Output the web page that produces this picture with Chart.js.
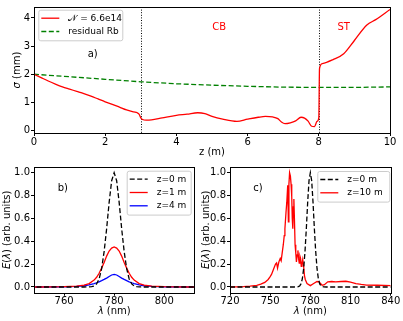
<!DOCTYPE html>
<html>
<head>
<meta charset="utf-8">
<script src="https://cdn.jsdelivr.net/npm/chart.js@4.4.1/dist/chart.umd.min.js"></script>
<style>
html, body { margin: 0; padding: 0; background: #fff; }
#wrap { position: relative; width: 403px; height: 321px; overflow: hidden; }
canvas { position: absolute; }
</style>
</head>
<body>
<div id="wrap">
  <canvas id="chartA" width="403" height="160" style="left:0;top:0"></canvas>
  <canvas id="chartB" width="200" height="161" style="left:0;top:160px"></canvas>
  <canvas id="chartC" width="203" height="161" style="left:200px;top:160px"></canvas>
</div>
<script>
// a) 빔 반경 sigma(z)
const zRed = [0, 0.2, 0.4, 0.6, 0.8, 1.0, 1.2, 1.4, 1.6, 1.8, 2.0, 2.2, 2.4, 2.6, 2.8, 2.9, 2.95, 3.0, 3.05, 3.15, 3.3, 3.6, 4.0, 4.3, 4.6, 4.8, 5.0, 5.3, 5.7, 6.0, 6.3, 6.5, 6.7, 6.85, 6.95, 7.05, 7.2, 7.35, 7.5, 7.6, 7.7, 7.8, 7.88, 7.95, 8.0, 8.02, 8.1, 8.4, 8.7, 9.0, 9.35, 9.6, 10.0];
const sigmaRed = [2.0, 1.88, 1.76, 1.65, 1.55, 1.47, 1.39, 1.31, 1.22, 1.12, 1.02, 0.93, 0.83, 0.73, 0.66, 0.63, 0.58, 0.45, 0.39, 0.37, 0.38, 0.45, 0.54, 0.58, 0.63, 0.6, 0.5, 0.4, 0.32, 0.4, 0.47, 0.5, 0.48, 0.42, 0.3, 0.24, 0.27, 0.34, 0.47, 0.44, 0.33, 0.15, 0.14, 0.32, 0.45, 2.2, 2.38, 2.52, 2.73, 3.2, 3.75, 3.94, 4.3];
const zRb = [0, 1, 2, 3, 4, 5, 6, 7, 8, 9, 10];
const sigmaRb = [2.0, 1.91, 1.82, 1.73, 1.66, 1.61, 1.57, 1.54, 1.53, 1.53, 1.55];
const regionEdges = [3, 8];
const zTicks = [0, 2, 4, 6, 8, 10];
const sigmaTicks = [0, 1, 2, 3, 4];

// b), c) 스펙트럼
const lam0 = [720, 740, 760, 768, 770, 771, 772, 773, 774, 775, 776, 777, 778, 779, 780, 781, 782, 783, 784, 785, 786, 787, 788, 789, 790, 792, 800, 820, 840];
const e0 = [0, 0, 0, 0, 0.001, 0.003, 0.009, 0.027, 0.07, 0.16, 0.31, 0.51, 0.74, 0.93, 1.0, 0.93, 0.74, 0.51, 0.31, 0.16, 0.07, 0.027, 0.009, 0.003, 0.001, 0, 0, 0, 0];
const lam1 = [740, 750, 760, 765, 768, 770, 772, 773, 774, 775, 776, 777, 778, 779, 780, 781, 782, 783, 784, 785, 786, 787, 788, 790, 792, 795, 800, 810, 820];
const e1 = [0, 0, 0.003, 0.008, 0.017, 0.03, 0.06, 0.085, 0.12, 0.165, 0.215, 0.27, 0.315, 0.34, 0.35, 0.34, 0.315, 0.27, 0.215, 0.165, 0.12, 0.085, 0.06, 0.03, 0.017, 0.008, 0.003, 0, 0];
const lam4 = [740, 750, 760, 765, 768, 770, 772, 773, 774, 775, 776, 777, 778, 779, 780, 781, 782, 783, 784, 785, 786, 787, 788, 790, 792, 795, 800, 810, 820];
const e4 = [0, 0, 0.002, 0.006, 0.011, 0.018, 0.03, 0.037, 0.045, 0.055, 0.066, 0.078, 0.092, 0.105, 0.11, 0.105, 0.092, 0.078, 0.066, 0.055, 0.045, 0.037, 0.03, 0.018, 0.011, 0.006, 0.002, 0, 0];
const lam10 = [720, 730, 735, 740, 743, 746, 748.5, 750, 751, 752, 753, 754, 754.8, 755.5, 756.5, 757.5, 758.2, 759, 759.8, 760.5, 761, 761.8, 762.4, 763.1, 763.6, 764.0, 764.5, 765.1, 765.6, 766.1, 766.5, 766.9, 767.3, 767.7, 768.1, 768.6, 769.1, 769.6, 770.2, 770.7, 771.2, 771.7, 772.2, 772.7, 773.2, 773.7, 774.3, 775, 775.6, 776.2, 777.5, 780, 782.5, 785, 786.5, 788.8, 790.5, 793, 796, 799, 803, 806.5, 810, 814, 818, 822, 830, 840];
const e10 = [0, 0.003, 0.008, 0.015, 0.025, 0.04, 0.066, 0.09, 0.11, 0.14, 0.17, 0.2, 0.21, 0.165, 0.22, 0.25, 0.23, 0.3, 0.37, 0.45, 0.51, 0.65, 0.74, 0.89, 0.57, 0.9, 1.0, 0.97, 0.9, 0.79, 0.6, 0.51, 0.7, 0.77, 0.6, 0.37, 0.3, 0.22, 0.28, 0.32, 0.25, 0.21, 0.27, 0.25, 0.18, 0.2, 0.24, 0.18, 0.1, 0.066, 0.03, 0.012, 0.03, 0.048, 0.045, 0.015, 0.02, 0.045, 0.048, 0.044, 0.048, 0.05, 0.042, 0.03, 0.022, 0.017, 0.015, 0.012];
const eTicks = [0, 0.2, 0.4, 0.6, 0.8, 1.0];
const lamTicksB = [760, 780, 800];
const lamTicksC = [720, 750, 780, 810, 840];

const FONT = '"DejaVu Sans", sans-serif';
const pts = (xs, ys) => xs.map((v, i) => ({ x: v, y: ys[i] }));

// 기울임 글꼴이 섞인 축 제목
function richText(ctx, parts, cx, cy, angle) {
  ctx.save();
  ctx.translate(cx, cy);
  ctx.rotate(angle);
  ctx.textBaseline = 'middle';
  ctx.textAlign = 'left';
  ctx.fillStyle = '#000';
  let w = 0;
  parts.forEach(p => { ctx.font = (p.i ? 'oblique ' : '') + '10px ' + FONT; w += ctx.measureText(p.t).width; });
  let x = -w / 2;
  parts.forEach(p => {
    ctx.font = (p.i ? 'oblique ' : '') + '10px ' + FONT;
    ctx.fillText(p.t, x, 0);
    x += ctx.measureText(p.t).width;
  });
  ctx.restore();
}

const panelPlugin = {
  id: 'panel',
  beforeDatasetsDraw(chart, args, o) {
    const { ctx, chartArea: a, scales: { x } } = chart;
    if (!o.vlines) return;
    ctx.save();
    ctx.strokeStyle = '#000';
    ctx.lineWidth = 1;
    ctx.setLineDash([1, 1.6]);
    o.vlines.forEach(v => {
      const px = Math.round(x.getPixelForValue(v)) + 0.5;
      ctx.beginPath();
      ctx.moveTo(px, a.top);
      ctx.lineTo(px, a.bottom);
      ctx.stroke();
    });
    ctx.restore();
  },
  afterDraw(chart, args, o) {
    const { ctx, chartArea: a, scales: { x, y } } = chart;
    ctx.save();
    // 테두리
    ctx.strokeStyle = '#000';
    ctx.lineWidth = 1;
    ctx.strokeRect(Math.round(a.left) + 0.5, Math.round(a.top) + 0.5, Math.round(a.right - a.left), Math.round(a.bottom - a.top));
    // 주석 글자
    ctx.textAlign = 'center';
    ctx.textBaseline = 'middle';
    ctx.font = '10px ' + FONT;
    (o.notes || []).forEach(n => {
      ctx.fillStyle = n.color || '#000';
      ctx.fillText(n.text, x.getPixelForValue(n.x), y.getPixelForValue(n.y));
    });
    richText(ctx, o.xTitle, (a.left + a.right) / 2, o.xTitleY, 0);
    richText(ctx, o.yTitle, o.yTitleX, (a.top + a.bottom) / 2, -Math.PI / 2);
    // 범례 (그래프 안쪽)
    const L = o.legend;
    const items = chart.data.datasets.filter(d => d.label);
    const bx = L.left != null ? a.left + L.left : a.right - L.right - L.w;
    const by = a.top + L.top;
    const h = 4 + items.length * 13.3;
    ctx.beginPath();
    ctx.roundRect(bx + 0.5, by + 0.5, L.w, h, 2);
    ctx.fillStyle = 'rgba(255,255,255,0.8)';
    ctx.fill();
    ctx.strokeStyle = '#cccccc';
    ctx.stroke();
    items.forEach((d, i) => {
      const yy = by + 8.5 + i * 13.3;
      ctx.strokeStyle = d.borderColor;
      ctx.lineWidth = 1.3;
      ctx.setLineDash(d.borderDash || []);
      ctx.beginPath();
      ctx.moveTo(bx + 3, yy);
      ctx.lineTo(bx + 21, yy);
      ctx.stroke();
      ctx.setLineDash([]);
      ctx.fillStyle = '#000';
      ctx.font = '9px ' + FONT;
      ctx.textAlign = 'left';
      ctx.fillText(d.label, bx + 30, yy);
    });
    ctx.restore();
  }
};
Chart.register(panelPlugin);

function axis(min, max, ticks, fmt, size, horizontal) {
  return {
    type: 'linear',
    min: min,
    max: max,
    afterBuildTicks: s => { s.ticks = ticks.map(v => ({ value: v })); },
    afterFit: s => { if (horizontal) s.height = size; else s.width = size; },
    ticks: { color: '#000', font: { family: FONT, size: 10 }, padding: horizontal ? 0 : 1, maxRotation: 0, autoSkip: false, callback: fmt },
    grid: { drawOnChartArea: false, drawTicks: true, tickLength: 3, color: '#000' },
    border: { display: false }
  };
}

function line(label, xs, ys, color, dash) {
  return {
    label: label, data: pts(xs, ys), showLine: true, borderColor: color, borderWidth: 1.3,
    borderDash: dash, pointRadius: 0, tension: 0, fill: false
  };
}

function baseOptions(pad, scales, panel) {
  return {
    responsive: false, animation: false, devicePixelRatio: 1,
    layout: { padding: pad },
    plugins: { legend: { display: false }, tooltip: { enabled: false }, panel: panel },
    scales: scales
  };
}

const intFmt = v => String(v);
const oneDec = v => v.toFixed(1);

new Chart(document.getElementById('chartA'), {
  type: 'scatter',
  data: {
    datasets: [
      Object.assign(line('𝒩 = 6.6e14', zRed, sigmaRed, '#ff0000'), { cubicInterpolationMode: 'monotone' }),
      line('residual Rb', zRb, sigmaRb, '#008000', [5, 2.5])
    ]
  },
  options: baseOptions({ top: 4, right: 13, left: 0, bottom: 0 }, {
    x: axis(0, 10, zTicks, intFmt, 27, true),
    y: axis(-0.09, 4.39, sigmaTicks, intFmt, 34, false)
  }, {
    vlines: regionEdges,
    notes: [
      { text: 'a)', x: 1.65, y: 2.72 },
      { text: 'CB', x: 5.2, y: 3.65, color: '#ff0000' },
      { text: 'ST', x: 8.7, y: 3.65, color: '#ff0000' }
    ],
    xTitle: [{ t: 'z (m)' }],
    xTitleY: 152,
    yTitle: [{ t: 'σ', i: true }, { t: ' (mm)' }],
    yTitleX: 17,
    legend: { left: 4.3, top: 2.7, w: 84 }
  })
});

new Chart(document.getElementById('chartB'), {
  type: 'scatter',
  data: {
    datasets: [
      line('z=0 m', lam0, e0, '#000000', [5, 2.5]),
      line('z=1 m', lam1, e1, '#ff0000'),
      line('z=4 m', lam4, e4, '#0000ff')
    ]
  },
  options: baseOptions({ top: 3.3, right: 5.7, left: 0, bottom: 0 }, {
    x: axis(748, 812, lamTicksB, intFmt, 28.3, true),
    y: axis(-0.05, 1.05, eTicks, oneDec, 34, false)
  }, {
    notes: [{ text: 'b)', x: 759.5, y: 0.865 }],
    xTitle: [{ t: 'λ', i: true }, { t: ' (nm)' }],
    xTitleY: 151.7,
    yTitle: [{ t: 'E', i: true }, { t: '(' }, { t: 'λ', i: true }, { t: ') (arb. units)' }],
    yTitleX: 7.5,
    legend: { right: 3.6, top: 3.7, w: 64 }
  })
});

new Chart(document.getElementById('chartC'), {
  type: 'scatter',
  data: {
    datasets: [
      line('z=0 m', lam0, e0, '#000000', [5, 2.5]),
      line('z=10 m', lam10, e10, '#ff0000')
    ]
  },
  options: baseOptions({ top: 3.3, right: 12.3, left: 0, bottom: 0 }, {
    x: axis(720, 840, lamTicksC, intFmt, 28.3, true),
    y: axis(-0.05, 1.05, eTicks, oneDec, 30, false)
  }, {
    notes: [{ text: 'c)', x: 740.9, y: 0.865 }],
    xTitle: [{ t: 'λ', i: true }, { t: ' (nm)' }],
    xTitleY: 151.7,
    yTitle: [{ t: 'E', i: true }, { t: '(' }, { t: 'λ', i: true }, { t: ') (arb. units)' }],
    yTitleX: 6.3,
    legend: { right: 1.4, top: 4, w: 72 }
  })
});
</script>
</body>
</html>
